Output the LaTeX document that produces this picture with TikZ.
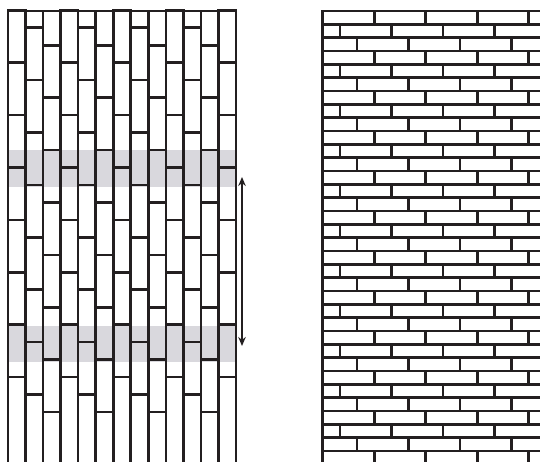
\documentclass[tikz,border=0pt]{standalone}
\usepackage{tikz}
\usetikzlibrary{arrows.meta}
\definecolor{ink}{HTML}{231F20}
\definecolor{band}{HTML}{D9D8DD}
\tikzset{
  joint/.style={line width=2.6pt, color=ink, line cap=rect},
  hiband/.style={fill=band, draw=none},
  span/.style={{Stealth[length=9pt,width=7.5pt]}-{Stealth[length=9pt,width=7.5pt]}, line width=1.5pt, color=ink},
}

\begin{document}
\begin{tikzpicture}[x=1pt, y=-1pt]
  \useasboundingbox (0,0) rectangle (540,462);
  \clip (0,0) rectangle (540,462);
  % grey bands across the vertical bond
  \fill[hiband] (8,150) rectangle (236,187);
  \fill[hiband] (8,326) rectangle (236,362);
  % vertical bricks, 1/3 offset per column
  \draw[joint] (8,470) -- (8,11) -- (236,11) -- (236,470);
  \foreach \c in {1,...,12} \draw[joint] ({8+17.54*\c},11) -- ({8+17.54*\c},470);
  \foreach \c in {0,...,12} {
    \pgfmathsetmacro\off{mod(\c,3)*17.47}
    \foreach \j in {1,...,8} \draw[joint] ({8+17.54*\c},{10.3+\off+52.4*(\j-1)}) -- ++(17.54,0);
  }
  % horizontal bricks, 1/3 offset per course
  \draw[joint] (322.7,470) -- (322.7,11) -- (545,11);
  \foreach \r in {1,...,34} \draw[joint] (322.7,{11+13.33*\r}) -- (545,{11+13.33*\r});
  \foreach \r in {0,...,34} {
    \pgfmathsetmacro\sh{mod(\r,3)*17.17}
    \foreach \k in {0,...,4} \draw[joint] ({322.7+\sh+51.5*\k},{11+13.33*\r}) -- ++(0,13.33);
  }
  % repeat distance
  \coordinate (reptop) at (242,177);
  \coordinate (repbot) at (242,346);
  \draw[span] (reptop) -- (repbot);
\end{tikzpicture}
\end{document}
